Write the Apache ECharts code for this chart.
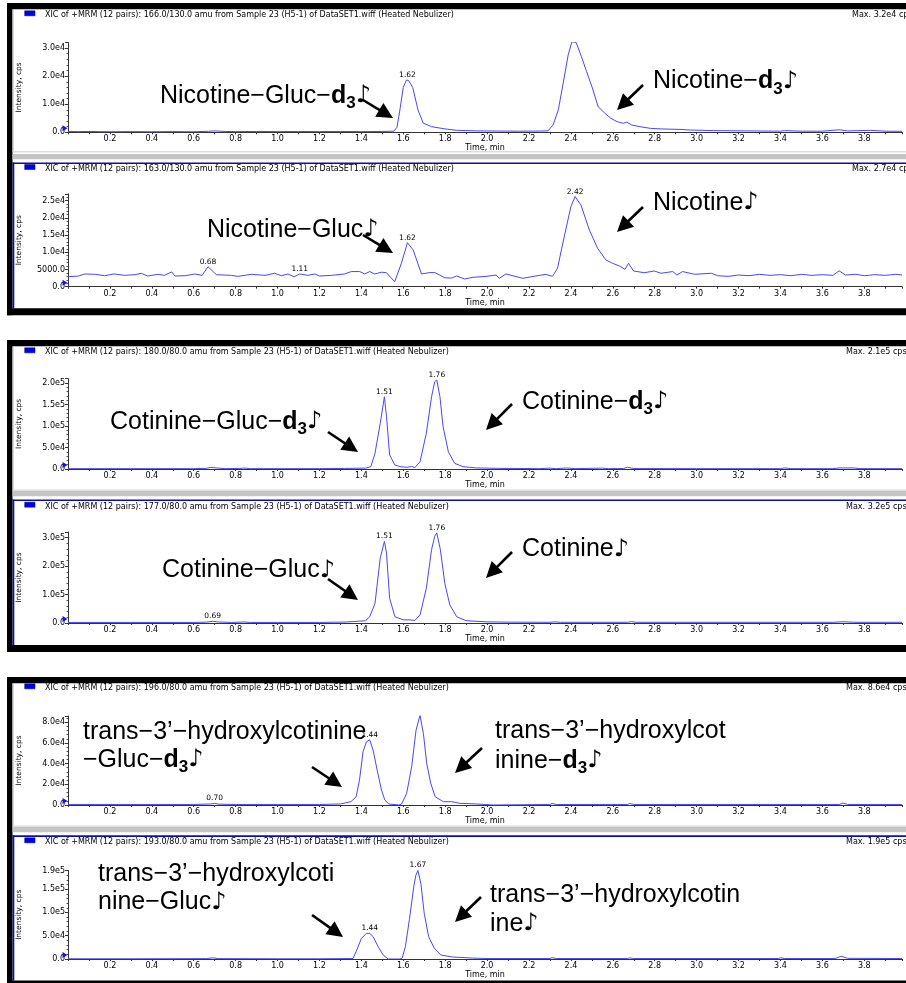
<!DOCTYPE html>
<html><head><meta charset="utf-8">
<script src="https://cdn.jsdelivr.net/npm/echarts@6/dist/echarts.min.js"></script>
<style>html,body{margin:0;padding:0;background:#fff}#c{width:906px;height:983px}</style>
</head><body><div id="c"></div>
<script>
// ---------------- data ----------------
const panelTitles = [
  'XIC of +MRM (12 pairs): 166.0/130.0 amu from Sample 23 (H5-1) of DataSET1.wiff (Heated Nebulizer)',
  'XIC of +MRM (12 pairs): 163.0/130.0 amu from Sample 23 (H5-1) of DataSET1.wiff (Heated Nebulizer)',
  'XIC of +MRM (12 pairs): 180.0/80.0 amu from Sample 23 (H5-1) of DataSET1.wiff (Heated Nebulizer)',
  'XIC of +MRM (12 pairs): 177.0/80.0 amu from Sample 23 (H5-1) of DataSET1.wiff (Heated Nebulizer)',
  'XIC of +MRM (12 pairs): 196.0/80.0 amu from Sample 23 (H5-1) of DataSET1.wiff (Heated Nebulizer)',
  'XIC of +MRM (12 pairs): 193.0/80.0 amu from Sample 23 (H5-1) of DataSET1.wiff (Heated Nebulizer)'
];
const maxLabels = ['Max. 3.2e4 cps','Max. 2.7e4 cps','Max. 2.1e5 cps','Max. 3.2e5 cps','Max. 8.6e4 cps','Max. 1.9e5 cps'];
const yMax = [3.2e4, 2.7e4, 2.1e5, 3.2e5, 8.6e4, 1.9e5];
const yInterval = [1e4, 5000, 5e4, 1e5, 2e4, 5e4];
const xMin = 0, xMax = 3.98, xInterval = 0.2;
const xName = 'Time, min';
const yName = 'Intensity, cps';

const trace1 = [[0,300],[0.05,250],[0.1,300],[0.15,250],[0.2,200],[0.3,250],[0.4,200],[0.5,250],[0.6,200],[0.67,350],[0.7,500],[0.75,300],[0.8,250],[0.9,300],[1.0,250],[1.1,300],[1.2,250],[1.3,300],[1.4,250],[1.5,300],[1.555,400],[1.57,1800],[1.585,8500],[1.60,16000],[1.615,18600],[1.625,18500],[1.645,16000],[1.67,8000],[1.695,3300],[1.735,2000],[1.80,1200],[1.855,700],[1.95,500],[2.05,450],[2.15,400],[2.25,450],[2.29,500],[2.315,2600],[2.34,8000],[2.363,17500],[2.387,27600],[2.405,32300],[2.425,32000],[2.45,27000],[2.475,21600],[2.50,16300],[2.53,9100],[2.562,6800],[2.59,5000],[2.62,3800],[2.65,3200],[2.667,3600],[2.69,2600],[2.73,2000],[2.78,1400],[2.83,1200],[2.93,1000],[2.97,800],[3.08,600],[3.24,500],[3.4,400],[3.42,600],[3.5,400],[3.6,400],[3.68,900],[3.72,500],[3.83,700],[3.9,400],[3.98,350]];
const trace2 = [[0,2900],[0.05,3100],[0.08,3700],[0.13,3600],[0.175,3200],[0.22,3700],[0.27,3300],[0.32,3500],[0.35,3900],[0.38,3100],[0.43,3600],[0.46,3300],[0.495,4300],[0.51,3100],[0.56,3200],[0.605,3700],[0.64,3300],[0.668,5800],[0.708,3500],[0.78,3300],[0.81,3000],[0.875,3600],[0.94,3300],[0.986,3900],[1.018,3200],[1.05,3700],[1.079,2900],[1.106,3700],[1.145,3300],[1.178,3700],[1.2,3100],[1.257,3300],[1.32,3700],[1.352,4400],[1.392,4400],[1.416,3700],[1.44,4400],[1.464,3700],[1.496,4200],[1.519,4100],[1.559,1450],[1.591,6800],[1.62,12800],[1.647,10700],[1.687,3700],[1.727,4100],[1.751,4100],[1.798,2600],[1.83,2500],[1.855,3100],[1.893,2240],[1.932,2730],[1.995,3000],[2.043,3400],[2.058,2440],[2.09,3700],[2.17,2440],[2.232,3100],[2.28,3600],[2.312,3000],[2.336,5350],[2.368,14500],[2.40,23300],[2.42,26200],[2.448,23700],[2.488,16500],[2.527,11200],[2.567,7760],[2.599,6800],[2.631,6030],[2.658,5060],[2.675,6800],[2.699,4560],[2.75,4070],[2.798,4560],[2.83,3900],[2.886,4400],[2.906,3400],[2.933,4400],[2.99,3600],[3.07,3900],[3.1,3200],[3.15,3000],[3.2,3400],[3.25,3200],[3.3,3600],[3.35,3300],[3.4,3500],[3.45,3200],[3.5,3600],[3.55,3300],[3.6,3500],[3.65,3300],[3.68,4600],[3.71,3400],[3.76,3600],[3.8,3200],[3.85,3500],[3.9,3300],[3.95,3600],[3.98,3400]];
const trace3 = [[0,800],[0.3,800],[0.6,800],[0.66,1500],[0.68,3500],[0.71,2500],[0.75,800],[0.82,1200],[0.84,2200],[0.87,800],[1.0,800],[1.2,800],[1.32,1300],[1.42,2000],[1.445,5400],[1.465,36500],[1.49,106000],[1.51,168000],[1.52,121600],[1.535,32600],[1.56,9300],[1.59,5000],[1.62,4000],[1.64,6000],[1.655,3000],[1.68,17000],[1.71,83000],[1.735,168000],[1.75,203000],[1.76,207000],[1.775,168000],[1.79,98400],[1.815,40200],[1.845,13200],[1.885,5400],[1.95,2500],[2.05,1500],[2.2,1000],[2.25,800],[2.3,2000],[2.33,800],[2.38,2500],[2.42,800],[2.55,2000],[2.58,800],[2.65,1000],[2.67,4000],[2.7,1000],[3.0,800],[3.4,800],[3.42,2500],[3.45,800],[3.65,800],[3.68,2500],[3.75,2500],[3.78,800],[3.98,800]];
const trace4 = [[0,2000],[0.3,2000],[0.6,2000],[0.66,3000],[0.69,6000],[0.72,3500],[0.78,2000],[0.84,3500],[0.87,2000],[1.0,2000],[1.2,2000],[1.33,3500],[1.42,8000],[1.44,22000],[1.465,69000],[1.49,228000],[1.51,287000],[1.52,246000],[1.535,87000],[1.56,22000],[1.6,11000],[1.632,11000],[1.655,9000],[1.68,28000],[1.71,122000],[1.735,258000],[1.75,305000],[1.76,317000],[1.777,258000],[1.798,140000],[1.822,64000],[1.855,22000],[1.9,8000],[2.0,4000],[2.1,3000],[2.3,2500],[2.32,4000],[2.35,2500],[2.67,2500],[2.69,5000],[2.71,2500],[3.65,2500],[3.7,4500],[3.75,2500],[3.98,2500]];
const trace5 = [[0,500],[0.3,500],[0.6,500],[0.68,1000],[0.70,1500],[0.72,800],[0.8,500],[1.0,500],[1.2,500],[1.30,1000],[1.35,3200],[1.375,8000],[1.391,24000],[1.408,51400],[1.424,61000],[1.44,63000],[1.456,53000],[1.477,32100],[1.496,14500],[1.512,4800],[1.531,1000],[1.54,0],[1.58,0],[1.592,1000],[1.616,11200],[1.64,37000],[1.661,72300],[1.68,86700],[1.696,69000],[1.712,40000],[1.731,21000],[1.752,8000],[1.791,3200],[1.831,3200],[1.871,1600],[1.95,1000],[2.03,0],[2.3,500],[2.31,1500],[2.33,500],[2.67,500],[2.68,1500],[2.7,500],[3.68,500],[3.7,1800],[3.72,500],[3.98,500]];
const trace6 = [[0,500],[0.3,500],[0.66,800],[0.69,2500],[0.72,800],[1.0,500],[1.2,500],[1.36,1000],[1.375,15700],[1.40,44000],[1.424,55000],[1.44,55000],[1.456,48000],[1.48,26600],[1.504,8600],[1.528,0],[1.584,0],[1.595,2000],[1.61,26600],[1.629,84000],[1.65,155000],[1.66,180000],[1.67,190000],[1.684,162000],[1.70,98000],[1.721,48000],[1.748,23000],[1.779,8600],[1.835,4300],[1.93,2000],[2.0,1000],[2.3,1000],[2.31,3000],[2.33,1000],[2.67,1000],[2.68,2500],[2.7,1000],[3.39,1000],[3.4,2500],[3.42,1000],[3.66,1000],[3.69,6000],[3.72,1500],[3.98,1000]];
const traces = [trace1, trace2, trace3, trace4, trace5, trace6];

const peaks1 = [[1.62,18600,'1.62'],[2.41,32300,'2.41']];
const peaks2 = [[0.668,5800,'0.68'],[1.106,3700,'1.11'],[1.62,12800,'1.62'],[2.42,26200,'2.42']];
const peaks3 = [[1.51,168000,'1.51'],[1.76,207000,'1.76']];
const peaks4 = [[0.69,6000,'0.69'],[1.51,287000,'1.51'],[1.76,317000,'1.76']];
const peaks5 = [[0.70,1500,'0.70'],[1.44,63000,'1.44'],[1.68,86700,'1.68']];
const peaks6 = [[1.44,55000,'1.44'],[1.67,190000,'1.67']];
const peaks = [peaks1, peaks2, peaks3, peaks4, peaks5, peaks6];

const compoundLabels = [
  '{n|Nicotine−Gluc−}{b|d}{s|3}{m|♪}',
  '{n|Nicotine−}{b|d}{s|3}{m|♪}',
  '{n|Nicotine−Gluc}{m|♪}',
  '{n|Nicotine}{m|♪}',
  '{n|Cotinine−Gluc−}{b|d}{s|3}{m|♪}',
  '{n|Cotinine−}{b|d}{s|3}{m|♪}',
  '{n|Cotinine−Gluc}{m|♪}',
  '{n|Cotinine}{m|♪}',
  '{n|trans−3’−hydroxylcotinine}',
  '{n|−Gluc−}{b|d}{s|3}{m|♪}',
  '{n|trans−3’−hydroxylcot}',
  '{n|inine−}{b|d}{s|3}{m|♪}',
  '{n|trans−3’−hydroxylcoti}',
  '{n|nine−Gluc}{m|♪}',
  '{n|trans−3’−hydroxylcotin}',
  '{n|ine}{m|♪}'
];

// ---------------- layout / style ----------------
const F_BIG = "'Liberation Sans', Arial, 'DejaVu Sans', sans-serif";
const F_SMALL = "'DejaVu Sans', Verdana, sans-serif";
const LINE_COLOR = '#4848f4';
const gridBox = [[42.5,132.3],[193.8,286.7],[378.7,469],[532,623],[716,805],[870.5,959]];
const titleY = [15.3,169,352.3,506.7,688.3,842.3];
const maxX = [852,852,846,846,846,846];
const labelPos = [[160,96],[653,81.5],[207,230],[653,203],[110,422],[522,402],[162,570.5],[522,549.5],
  [83,732],[83,760],[495,731.5],[495,761],[98,874],[98,902.5],[490,895.5],[490,924]];
const arrowPos = [[363,100,393,118],[643,85,617,110],[363,235,393,253],[643,207,617,232],
  [328,432,358,452],[512,404,486,430],[328,579,358,600],[512,552,486,578],
  [312,767,342,787],[482,748,455,773],[312,915,343,937],[481,897,455,922]];

function fmtY(v){
  if (v === 0) return '0.0';
  if (v < 1e4) return v.toFixed(1);
  const e = Math.floor(Math.log10(v) + 1e-9);
  return (v / Math.pow(10, e)).toFixed(1) + 'e' + e;
}

const grids = [], xAxes = [], yAxes = [], series = [];
for (let i = 0; i < 6; i++) {
  grids.push({left: 68, right: 4, top: gridBox[i][0], height: gridBox[i][1] - gridBox[i][0]});
  xAxes.push({
    type: 'value', gridIndex: i, min: xMin, max: xMax, interval: xInterval,
    axisLine: {show: true, onZero: false, lineStyle: {color: '#333', width: 1}},
    axisTick: {show: true, length: 2, lineStyle: {color: '#333'}},
    minorTick: {show: true, splitNumber: 2, length: 2, lineStyle: {color: '#333'}},
    splitLine: {show: false},
    axisLabel: {fontSize: 8, fontFamily: F_SMALL, color: '#000', margin: 3,
      showMinLabel: false, showMaxLabel: false, formatter: v => v.toFixed(1)},
    name: xName, nameLocation: 'middle', nameGap: 12,
    nameTextStyle: {fontSize: 8, fontFamily: F_SMALL, color: '#000'}
  });
  yAxes.push({
    type: 'value', gridIndex: i, min: 0, max: yMax[i], interval: yInterval[i],
    axisLine: {show: true, lineStyle: {color: '#333', width: 1}},
    axisTick: {show: true, length: 3, lineStyle: {color: '#333'}},
    minorTick: {show: true, splitNumber: 5, length: 1.5, lineStyle: {color: '#555'}},
    splitLine: {show: false},
    axisLabel: {fontSize: 8, fontFamily: F_SMALL, color: '#000', margin: 3,
      showMaxLabel: i === 5, formatter: fmtY},
    name: yName, nameLocation: 'middle', nameGap: 45, nameRotate: 90,
    nameTextStyle: {fontSize: 7.5, fontFamily: F_SMALL, color: '#000'}
  });
  const mp = peaks[i].map(p => ({name: p[2], coord: [p[0], p[1]]}));
  mp.push({name: '', coord: [0, 0], symbol: 'triangle', symbolSize: [6, 5], symbolRotate: -90,
    symbolOffset: [-3, -4], itemStyle: {color: '#1010ff'}, label: {show: false}});
  series.push({
    type: 'line', xAxisIndex: i, yAxisIndex: i, data: traces[i], symbol: 'none',
    lineStyle: {color: LINE_COLOR, width: 1}, animation: false, z: 5,
    markPoint: {
      animation: false, silent: true, symbol: 'circle', symbolSize: 0,
      itemStyle: {color: 'transparent'},
      label: {show: true, position: 'top', distance: 1, formatter: p => p.name,
        fontSize: 7.5, fontFamily: F_SMALL, color: '#000'},
      data: mp
    }
  });
}

// ---------------- decorations ----------------
const g = [];
function rect(x, y, w, h, fill, z) { g.push({type: 'rect', shape: {x, y, width: w, height: h}, style: {fill}, z: z || 1, silent: true}); }
// box frames
const boxes = [[3, 315.3], [340, 652], [677, 983]];
boxes.forEach((b, k) => {
  rect(7, b[0], 899, 6.3, '#000');
  rect(7, b[0], 5.5, b[1] - b[0], '#000');
  if (k < 2) rect(7, b[1] - 7, 899, 7, '#000'); else rect(7, b[1] - 2.5, 899, 2.5, '#000');
});
// separators between panels
const seps = [[151, 154, 162.5, 308.3], [489.5, 491, 499.5, 645], [825.5, 827, 835.3, 980.5]];
seps.forEach(s => {
  rect(12.5, s[0], 893.5, 1.5, '#dcdcdc');
  rect(12.5, s[1], 893.5, 5.3, '#c4c4c4');
  rect(12.5, s[2], 893.5, 1.6, '#10109a');
  rect(12.5, s[2], 1.8, s[3] - s[2], '#10109a');
});
// upper panel light left edges
[[9.3, 151], [346.7, 489.5], [683.3, 825.5]].forEach(e => rect(12.5, e[0], 1.2, e[1] - e[0], '#c8c8c8'));

// title bars
for (let i = 0; i < 6; i++) {
  g.push({type: 'rect', shape: {x: 24.7, y: titleY[i] - 4.5, width: 10.3, height: 5}, style: {fill: '#0000f0', stroke: '#000060', lineWidth: 0.5}, z: 3, silent: true});
  g.push({type: 'text', x: 45, y: titleY[i], style: {text: panelTitles[i], fontSize: 8, fontFamily: F_SMALL, fill: '#000', verticalAlign: 'middle', align: 'left'}, z: 3, silent: true});
  g.push({type: 'text', x: maxX[i], y: titleY[i], style: {text: maxLabels[i], fontSize: 8, fontFamily: F_SMALL, fill: '#000', verticalAlign: 'middle', align: 'left'}, z: 3, silent: true});
}

// compound labels
const rich = {
  n: {fontSize: 25, fontFamily: F_BIG, fill: '#000'},
  b: {fontSize: 25, fontFamily: F_BIG, fontWeight: 'bold', fill: '#000'},
  s: {fontSize: 17, fontFamily: F_BIG, fontWeight: 'bold', fill: '#000', padding: [15, 0, 0, 0]},
  m: {fontSize: 24, fontFamily: "'DejaVu Sans', sans-serif", fill: '#000'}
};
compoundLabels.forEach((t, k) => {
  g.push({type: 'text', x: labelPos[k][0], y: labelPos[k][1], z: 100, silent: true,
    style: {text: t, rich, fontSize: 25, fontFamily: F_BIG, fill: '#000', align: 'left', verticalAlign: 'middle'}});
});
// arrows
arrowPos.forEach(a => {
  const [x1, y1, x2, y2] = a;
  const dx = x2 - x1, dy = y2 - y1, L = Math.hypot(dx, dy), ux = dx / L, uy = dy / L;
  const hl = 16, hw = 8;
  const bx = x2 - ux * hl, by = y2 - uy * hl;
  g.push({type: 'line', z: 100, silent: true, shape: {x1, y1, x2: bx + ux * 2, y2: by + uy * 2}, style: {stroke: '#000', lineWidth: 2.6}});
  g.push({type: 'polygon', z: 100, silent: true, shape: {points: [[x2, y2], [bx - uy * hw, by + ux * hw], [bx + uy * hw, by - ux * hw]]}, style: {fill: '#000'}});
});

const chart = echarts.init(document.getElementById('c'), null, {renderer: 'canvas'});
chart.setOption({
  animation: false,
  backgroundColor: '#fff',
  grid: grids, xAxis: xAxes, yAxis: yAxes, series: series,
  graphic: {elements: g}
});
</script></body></html>
